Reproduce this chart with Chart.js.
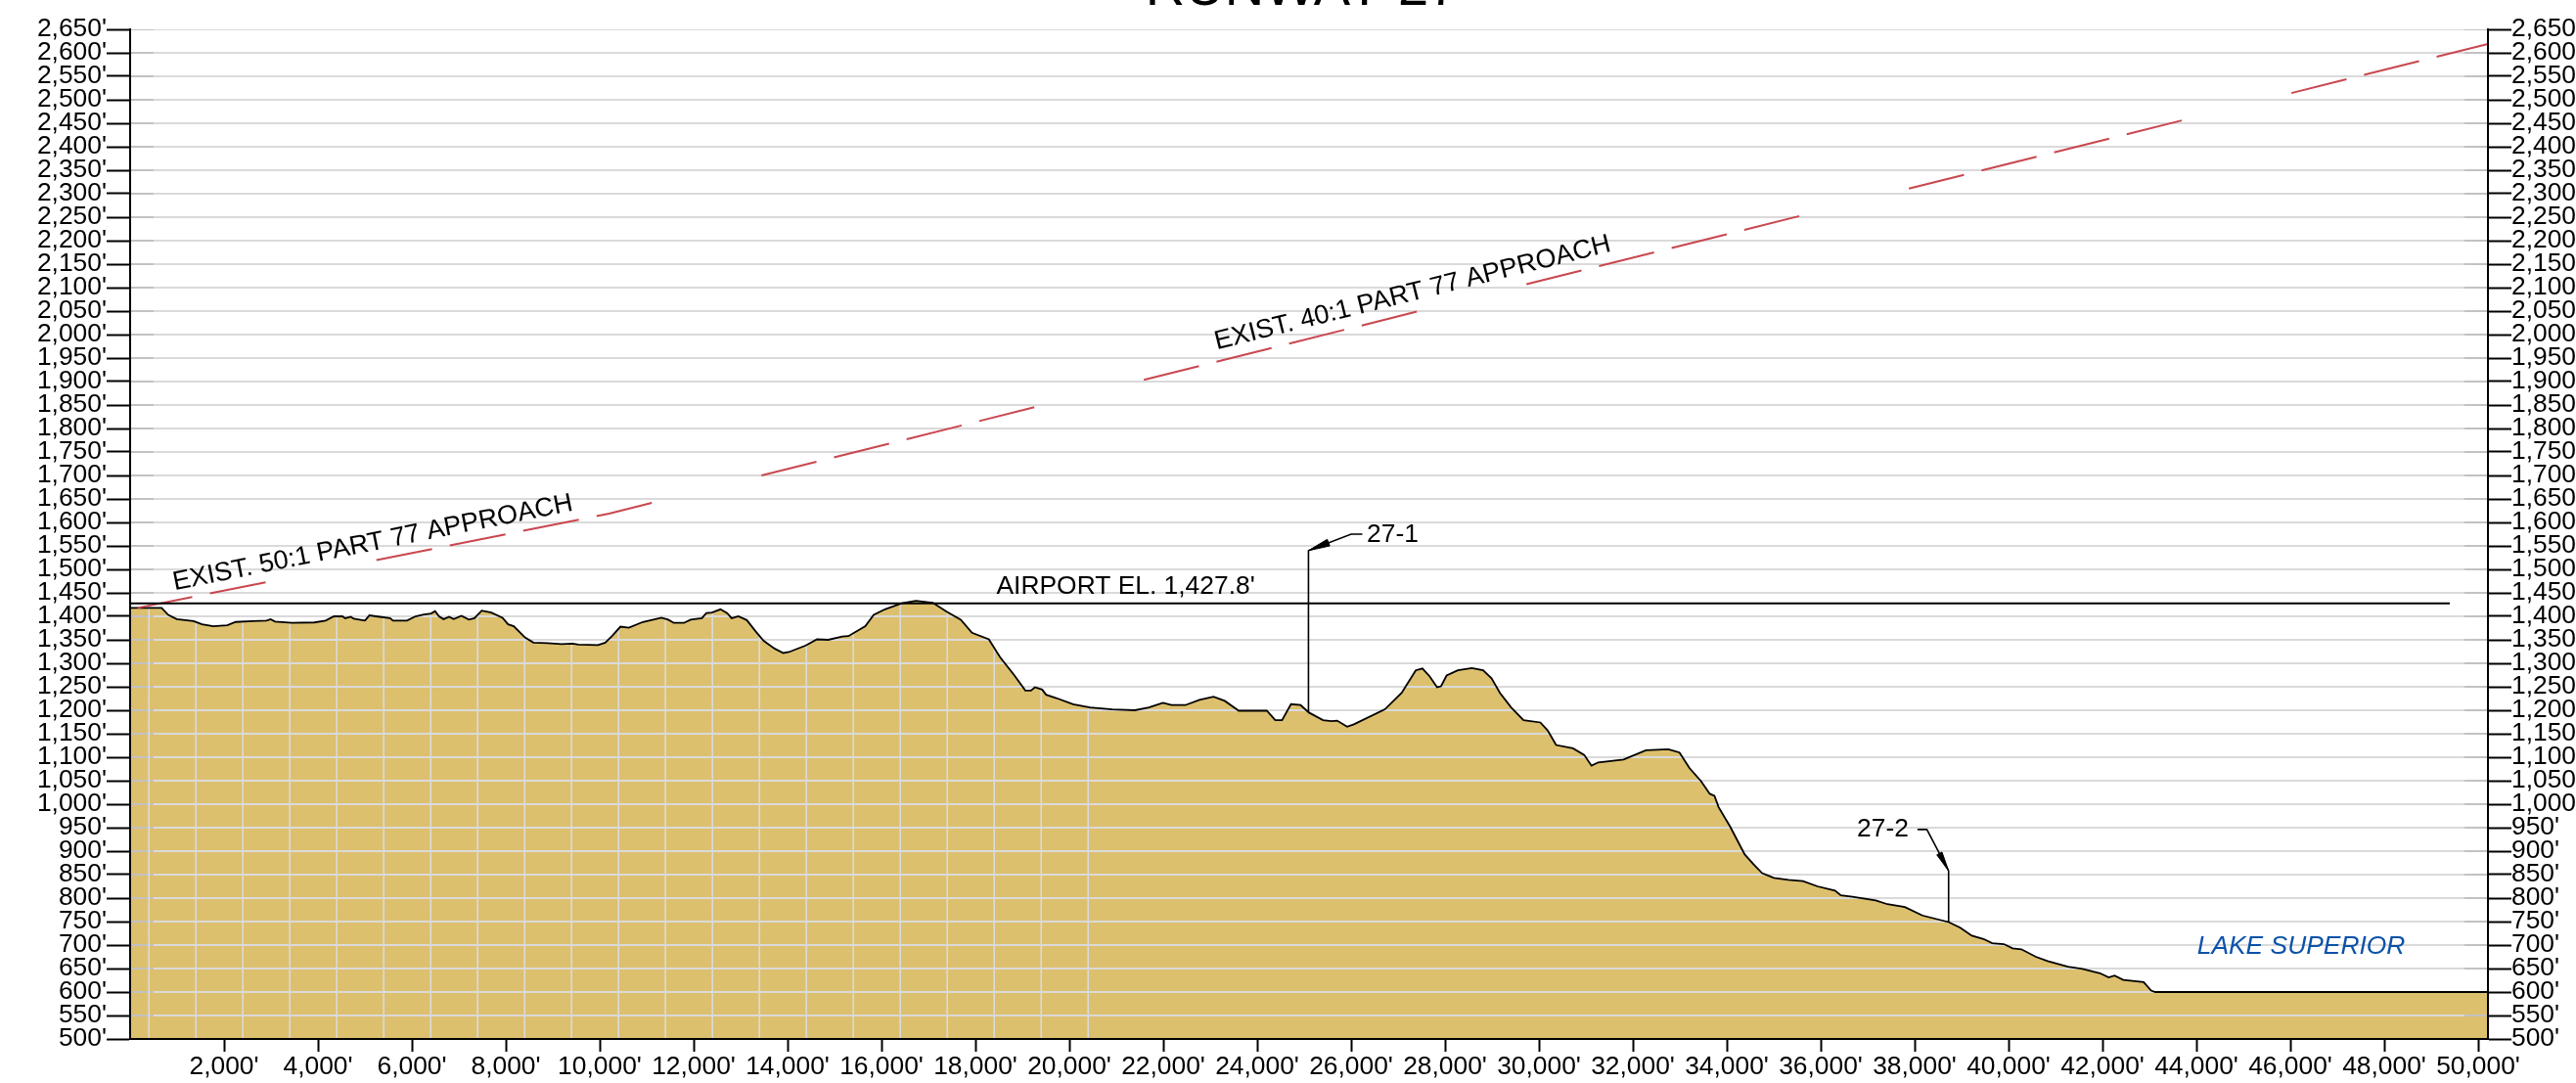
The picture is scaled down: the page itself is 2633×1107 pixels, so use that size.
<!DOCTYPE html>
<html lang="en">
<head>
  <meta charset="UTF-8" />
  <title>Runway 27 Approach Profile</title>
  <style>
    body { margin: 0; background: #fff; overflow: hidden; }
    canvas { display: block; }
  </style>
</head>
<body>
<canvas id="profile" width="2633" height="1107"></canvas>

<script src="https://cdn.jsdelivr.net/npm/chart.js"></script>
<script>
  // tick values
  const yTicks = [500, 550, 600, 650, 700, 750, 800, 850, 900, 950, 1000, 1050, 1100, 1150, 1200, 1250, 1300, 1350, 1400, 1450,
    1500, 1550, 1600, 1650, 1700, 1750, 1800, 1850, 1900, 1950, 2000, 2050, 2100, 2150, 2200, 2250, 2300, 2350, 2400, 2450,
    2500, 2550, 2600, 2650];
  const xTicks = [2000, 4000, 6000, 8000, 10000, 12000, 14000, 16000, 18000, 20000, 22000, 24000, 26000,
    28000, 30000, 32000, 34000, 36000, 38000, 40000, 42000, 44000, 46000, 48000, 50000];

  // ground profile: distance (ft) and elevation (ft)
  const terrainX = [0, 670, 813, 993, 1351, 1531, 1770, 2069, 2248, 2607, 2906, 2990, 3086, 3444, 3923, 4162, 4341, 4521, 4581, 4700, 4760,
    5000, 5095, 5238, 5537, 5597, 5896, 6076, 6255, 6410, 6494, 6578, 6674, 6793, 6889, 7056, 7212, 7331, 7487, 7690, 7929, 8049, 8169,
    8408, 8587, 8886, 9185, 9425, 9544, 9963, 10118, 10262, 10441, 10620, 10919, 11314, 11458, 11577, 11793, 11936, 12175, 12271, 12390,
    12570, 12713, 12809, 12953, 13132, 13312, 13491, 13730, 13909, 14029, 14388, 14627, 14866, 15165, 15296, 15655, 15834, 16073, 16432,
    16731, 17090, 17389, 17688, 17927, 18286, 18525, 18824, 19063, 19183, 19266, 19422, 19506, 19721, 20080, 20439, 20917, 21395, 21694,
    21993, 22173, 22472, 22771, 23070, 23309, 23608, 24206, 24385, 24529, 24720, 24924, 25103, 25402, 25581, 25701, 25916, 26060, 26718,
    27077, 27376, 27519, 27675, 27830, 27914, 28033, 28272, 28571, 28810, 28990, 29169, 29408, 29671, 30030, 30185, 30365, 30724, 30963,
    31119, 31262, 31801, 32279, 32757, 32993, 33204, 33452, 33638, 33737, 33824, 34072, 34382, 34568, 34754, 35002, 35312, 35622, 35932,
    36304, 36428, 36676, 37172, 37420, 37792, 38164, 38722, 38970, 39218, 39466, 39652, 39900, 40086, 40272, 40582, 40830, 41264, 41574,
    41946, 42132, 42256, 42442, 42876, 43037, 43124, 50208];
  const terrainElev = [1418, 1418, 1403, 1394, 1390, 1383, 1379, 1381, 1388, 1390, 1391, 1394, 1389, 1386, 1387, 1391, 1400, 1400, 1396, 1399, 1395,
    1391, 1402, 1400, 1396, 1391, 1391, 1400, 1404, 1406, 1411, 1400, 1394, 1399, 1394, 1401, 1393, 1396, 1412, 1408, 1397, 1383, 1379,
    1355, 1344, 1343, 1341, 1342, 1340, 1339, 1344, 1358, 1378, 1376, 1388, 1397, 1393, 1386, 1386, 1393, 1396, 1407, 1408,
    1415, 1407, 1396, 1400, 1392, 1369, 1348, 1331, 1322, 1324, 1338, 1351, 1350, 1357, 1358, 1379, 1403, 1415, 1428,
    1433, 1429, 1410, 1393, 1365, 1351, 1313, 1275, 1242, 1242, 1249, 1244, 1233, 1226, 1213, 1206, 1202, 1200, 1206,
    1216, 1211, 1211, 1222, 1229, 1220, 1199, 1199, 1179, 1179, 1213, 1211, 1195, 1179, 1177, 1178, 1165, 1170, 1202,
    1237, 1285, 1289, 1272, 1249, 1251, 1274, 1285, 1290, 1285, 1268, 1237, 1206, 1179, 1174, 1157, 1126, 1119, 1105,
    1082, 1089, 1095, 1115, 1117, 1110, 1077, 1049, 1022, 1018, 994, 952, 893, 872, 853, 843, 839, 836, 825,
    816, 806, 803, 795, 787, 781, 763, 749, 737, 720, 713, 704, 702, 693, 691, 675, 666, 654, 649,
    640, 631, 635, 626, 621, 603, 600, 600];

  // vertical grid lines inside the ground, and the elevation each one stops at
  const vGridX = [400, 1400, 2400, 3400, 4400, 5400, 6400, 7400, 8400, 9400, 10400, 11400, 12400, 13400, 14400, 15400, 16400, 17400, 18400, 19400, 20400];
  const vGridTop = [1418, 1388, 1389, 1386, 1400, 1398, 1406, 1404, 1355, 1342, 1372, 1395, 1408, 1358, 1339, 1364, 1427, 1410, 1332, 1245, 1207];

  // approach surface break points
  const approachX = [158, 10200, 50208];
  const approachElev = [1418, 1618.8, 2619];

  const airportX = [0, 49396];
  const airportElev = [1427.8, 1427.8];

  // leader lines and arrow heads for the obstruction callouts
  const leader1X = [25092, 25092, 26000, 26240];
  const leader1Elev = [1196, 1540, 1575, 1575];
  const arrow1X = [25092, 25546, 25492, 25092];
  const arrow1Elev = [1540, 1550, 1564, 1540];
  const leader2X = [38723, 38723, 38260, 38060];
  const leader2Elev = [748, 858, 946, 946];
  const arrow2X = [38723, 38583, 38473, 38723];
  const arrow2Elev = [858, 898, 892, 858];

  const X_MAX = 50208;
  const FONT = '"Liberation Sans", Arial, sans-serif';
  const TICK_FONT = { family: FONT, size: 26.4 };

  const pts = (xs, ys) => xs.map((x, i) => ({ x, y: ys[i] }));

  // one dataset per kind of grid line, broken up with null points
  const hGrid = yTicks.flatMap(y => [{ x: 0, y }, { x: X_MAX, y }, { x: X_MAX, y: null }]);
  const hStubs = yTicks.flatMap(y => [
    { x: 0, y }, { x: 500, y }, { x: 500, y: null },
    { x: 49708, y }, { x: X_MAX, y }, { x: X_MAX, y: null }
  ]);
  const vGrid = vGridX.flatMap((x, i) => [{ x, y: 500 }, { x, y: vGridTop[i] }, { x, y: null }]);

  const lineDefaults = { type: 'line', pointRadius: 0, tension: 0, fill: false, spanGaps: false };

  // text notes, placed through the scales
  const notesPlugin = {
    id: 'notes',
    afterDraw(chart) {
      const { ctx, scales: { x, y } } = chart;
      const note = (text, dx, dy, size, angle, color, italic, baseline) => {
        ctx.save();
        ctx.translate(x.getPixelForValue(dx), y.getPixelForValue(dy));
        ctx.rotate(-angle * Math.PI / 180);
        ctx.font = (italic ? 'italic ' : '') + size + 'px ' + FONT;
        ctx.fillStyle = color;
        ctx.textAlign = 'center';
        ctx.textBaseline = baseline || 'middle';
        ctx.fillText(text, 0, 0);
        ctx.restore();
      };
      note('RUNWAY 27', 24958, 2702, 56, 0, '#000', false, 'alphabetic');
      note('EXIST. 50:1 PART 77 APPROACH', 5167, 1556, 27, 11.3, '#000');
      note('EXIST. 40:1 PART 77 APPROACH', 27310, 2088, 27, 14, '#000');
      note("AIRPORT EL. 1,427.8'", 21200, 1463, 26.4, 0, '#000');
      note('27-1', 26885, 1574, 26.4, 0, '#000');
      note('27-2', 37323, 946, 26.4, 0, '#000');
      note('LAKE SUPERIOR', 46230, 697, 26.4, 0, '#0b52a8', true);
    }
  };

  const yAxis = (position, width) => ({
    type: 'linear',
    position,
    min: 500,
    max: 2650,
    afterBuildTicks: scale => { scale.ticks = yTicks.map(value => ({ value })); },
    afterFit: scale => { scale.width = width; },
    grid: { drawOnChartArea: false, tickLength: 24, tickColor: '#000', tickWidth: 2 },
    border: { color: '#000', width: 2, z: 2 },
    ticks: {
      autoSkip: false,
      padding: 0,
      color: '#000',
      font: TICK_FONT,
      callback: v => v.toLocaleString('en-US') + "'"
    }
  });

  new Chart(document.getElementById('profile').getContext('2d'), {
    type: 'line',
    data: {
      datasets: [
        // ground fill
        { ...lineDefaults, data: pts(terrainX, terrainElev), borderWidth: 0, backgroundColor: '#ddc06e', fill: 'start', order: 10 },
        // grid
        { ...lineDefaults, data: hGrid, borderColor: '#dadada', borderWidth: 2, order: 9 },
        { ...lineDefaults, data: hStubs, borderColor: '#c2c2c2', borderWidth: 2, order: 8 },
        { ...lineDefaults, data: vGrid, borderColor: '#dadada', borderWidth: 1.6, order: 7 },
        // ground outline
        { ...lineDefaults, data: pts(terrainX, terrainElev), borderColor: '#000', borderWidth: 1.8, order: 6 },
        // approach surface
        {
          ...lineDefaults,
          data: pts(approachX, approachElev),
          borderColor: '#c9474f',
          borderWidth: 2,
          borderDash: [58, 18.5, 58, 18.5, 58, 18.5, 58, 115.5],
          borderDashOffset: 154,
          order: 5
        },
        // airport elevation
        { ...lineDefaults, data: pts(airportX, airportElev), borderColor: '#000', borderWidth: 2, order: 4 },
        // callouts
        { ...lineDefaults, data: pts(leader1X, leader1Elev), borderColor: '#000', borderWidth: 1.6, order: 3 },
        { ...lineDefaults, data: pts(leader2X, leader2Elev), borderColor: '#000', borderWidth: 1.6, order: 3 },
        { ...lineDefaults, data: pts(arrow1X, arrow1Elev), borderColor: '#000', borderWidth: 1, backgroundColor: '#000', fill: 'shape', order: 2 },
        { ...lineDefaults, data: pts(arrow2X, arrow2Elev), borderColor: '#000', borderWidth: 1, backgroundColor: '#000', fill: 'shape', order: 2 }
      ]
    },
    options: {
      responsive: false,
      animation: false,
      layout: { padding: { top: 30 } },
      plugins: { legend: { display: false }, title: { display: false }, tooltip: { enabled: false } },
      scales: {
        x: {
          type: 'linear',
          position: 'bottom',
          min: 0,
          max: X_MAX,
          afterBuildTicks: scale => { scale.ticks = xTicks.map(value => ({ value })); },
          afterFit: scale => { scale.height = 45; },
          grid: { drawOnChartArea: false, tickLength: 13, tickColor: '#000', tickWidth: 2 },
          border: { color: '#000', width: 2, z: 2 },
          ticks: {
            autoSkip: false,
            maxRotation: 0,
            minRotation: 0,
            padding: 0,
            color: '#000',
            font: TICK_FONT,
            callback: v => v.toLocaleString('en-US') + "'"
          }
        },
        y: yAxis('left', 133),
        y2: yAxis('right', 90)
      }
    },
    plugins: [notesPlugin]
  });
</script>
</body>
</html>
